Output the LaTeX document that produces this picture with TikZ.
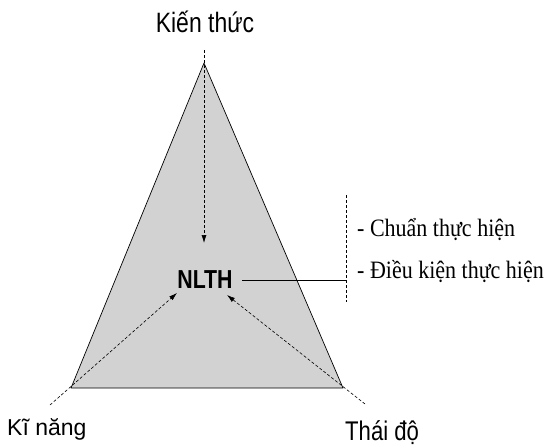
\documentclass[tikz,border=0pt]{standalone}
\usepackage{fontspec}
\setmainfont{Liberation Serif}
\newfontfamily\narrowsans[FakeStretch=0.82]{Liberation Sans}
\newfontfamily\plainsans{Liberation Sans}
\newfontfamily\serifn[FakeStretch=0.88]{Liberation Serif}
\usetikzlibrary{arrows.meta}
\begin{document}
\begin{tikzpicture}[x=1pt,y=-1pt,
  lbl/.style={inner sep=0pt,anchor=base},
  arr/.style={densely dashed,line width=0.6pt,-{Latex[length=8pt,width=5pt]}},
  tri/.style={draw=black,line width=0.7pt,fill=gray!35,line join=round},
  sep/.style={densely dashed,line width=0.6pt}]
\useasboundingbox (0,0) rectangle (544,447);
% triangle
\coordinate (A) at (204,63);
\coordinate (B) at (71,388);
\coordinate (C) at (343,388);
\draw[tri] (A) -- (B) -- (C) -- cycle;
% labels
\node[lbl,font=\narrowsans\fontsize{28}{30}\selectfont] (kt) at (205,32) {Kiến thức};
\node[lbl,anchor=base west,font=\plainsans\fontsize{23}{26}\selectfont] (kn) at (7,435) {Kĩ năng};
\node[lbl,anchor=base west,font=\narrowsans\fontsize{27}{30}\selectfont] (td) at (345,440) {Thái độ};
\node[lbl,font=\narrowsans\bfseries\fontsize{26}{28}\selectfont] (nl) at (205,288) {NLTH};
\node[lbl,anchor=base west,font=\serifn\fontsize{25}{28}\selectfont] (c1) at (357,236) {- Chuẩn thực hiện};
\node[lbl,anchor=base west,font=\serifn\fontsize{25}{28}\selectfont] (c2) at (357,278) {- Điều kiện thực hiện};
% arrows
\coordinate (s1) at (204,50);
\coordinate (e1) at (204,243);
\coordinate (s2) at (50,405);
\coordinate (e2) at (177,293);
\coordinate (s3) at (365,404);
\coordinate (e3) at (227,295);
\draw[arr] (s1) -- (e1);
\draw[arr] (s2) -- (e2);
\draw[arr] (s3) -- (e3);
% bracket
\coordinate (v1) at (346,195);
\coordinate (v2) at (346,302);
\draw[sep] (v1) -- (v2);
\coordinate (h1) at (242,280);
\coordinate (h2) at (346,280);
\draw[line width=0.6pt] (h1) -- (h2);
\end{tikzpicture}
\end{document}
